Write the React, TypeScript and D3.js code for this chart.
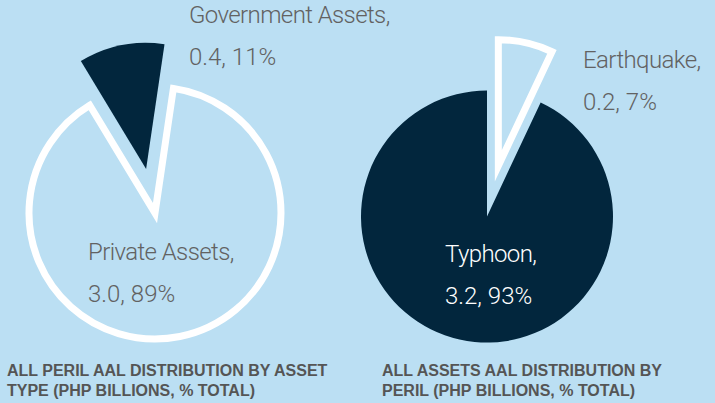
import React from "react";
import * as d3 from "d3";

const W = 715;
const H = 403;

const leftCategories = ["Private Assets", "Government Assets"];
const leftValues = [3.0, 0.4];
const leftPercents = [89, 11];

const rightCategories = ["Earthquake", "Typhoon"];
const rightValues = [0.2, 3.2];
const rightPercents = [7, 93];

const BG = "#bbdff3";
const NAVY = "#02263d";
const GRAY = "#626262";
const TITLE = "#555555";

type PieSpec = {
  cx: number;
  cy: number;
  startDeg: number;
  categories: string[];
  values: number[];
  percents: number[];
  styles: ("outline" | "fill")[];
  explode: number[];
  labelPos: [number, number][];
  labelColor: string[];
};

const R = 126;
const LINE = 42;

function Pie({ spec }: { spec: PieSpec }) {
  const start = (spec.startDeg * Math.PI) / 180;
  const pie = d3
    .pie<number>()
    .sort(null)
    .value((d) => d)
    .startAngle(start)
    .endAngle(start + 2 * Math.PI);
  const arcs = pie(spec.percents);
  const arc = d3.arc<d3.PieArcDatum<number>>().innerRadius(0).outerRadius(R);
  return (
    <g>
      {arcs.map((a, i) => {
        const mid = (a.startAngle + a.endAngle) / 2;
        const off = spec.explode[i];
        const dx = Math.sin(mid) * off;
        const dy = -Math.cos(mid) * off;
        const outline = spec.styles[i] === "outline";
        return (
          <path
            key={i}
            d={arc(a) || ""}
            transform={`translate(${spec.cx + dx},${spec.cy + dy})`}
            fill={outline ? "none" : NAVY}
            stroke={outline ? "#ffffff" : "none"}
            strokeWidth={outline ? 7 : 0}
            strokeLinejoin="miter"
            strokeMiterlimit={10}
          />
        );
      })}
      {arcs.map((a, i) => {
        const [lx, ly] = spec.labelPos[i];
        return (
          <text
            key={"t" + i}
            fontFamily="Roboto, 'Liberation Sans', sans-serif"
            fontWeight={300}
            fontSize={24}
            fill={spec.labelColor[i]}
          >
            <tspan x={spec.cx + lx} y={spec.cy + ly} letterSpacing={-0.6}>
              {spec.categories[i] + ","}
            </tspan>
            <tspan x={spec.cx + lx} y={spec.cy + ly + LINE} letterSpacing={0}>
              {spec.values[i].toFixed(1) + ", " + spec.percents[i] + "%"}
            </tspan>
          </text>
        );
      })}
    </g>
  );
}

export default function App() {
  const left: PieSpec = {
    cx: 155,
    cy: 213,
    startDeg: 8.4,
    categories: leftCategories,
    values: leftValues,
    percents: leftPercents,
    styles: ["outline", "fill"],
    explode: [0, 45],
    labelPos: [
      [-67, 47],
      [34, -190],
    ],
    labelColor: [GRAY, GRAY],
  };
  const right: PieSpec = {
    cx: 487,
    cy: 216.5,
    startDeg: 0,
    categories: rightCategories,
    values: rightValues,
    percents: rightPercents,
    styles: ["outline", "fill"],
    explode: [52, 0],
    labelPos: [
      [96, -148.5],
      [-42, 45.5],
    ],
    labelColor: [GRAY, "#ffffff"],
  };
  const titleStyle = {
    fontFamily: "'Liberation Sans', Arial, sans-serif",
    fontWeight: 700,
    fontSize: 16,
    fill: TITLE,
  } as const;
  return (
    <svg
      width={W}
      height={H}
      style={{ position: "absolute", left: 0, top: 0, display: "block" }}
    >
      <rect x={0} y={0} width={W} height={H} fill={BG} />
      <Pie spec={left} />
      <Pie spec={right} />
      <text {...titleStyle}>
        <tspan x={7} y={376}>ALL PERIL AAL DISTRIBUTION BY ASSET</tspan>
        <tspan x={7} y={396}>TYPE (PHP BILLIONS, % TOTAL)</tspan>
      </text>
      <text {...titleStyle}>
        <tspan x={382} y={376}>ALL ASSETS AAL DISTRIBUTION BY</tspan>
        <tspan x={382} y={396}>PERIL (PHP BILLIONS, % TOTAL)</tspan>
      </text>
    </svg>
  );
}
